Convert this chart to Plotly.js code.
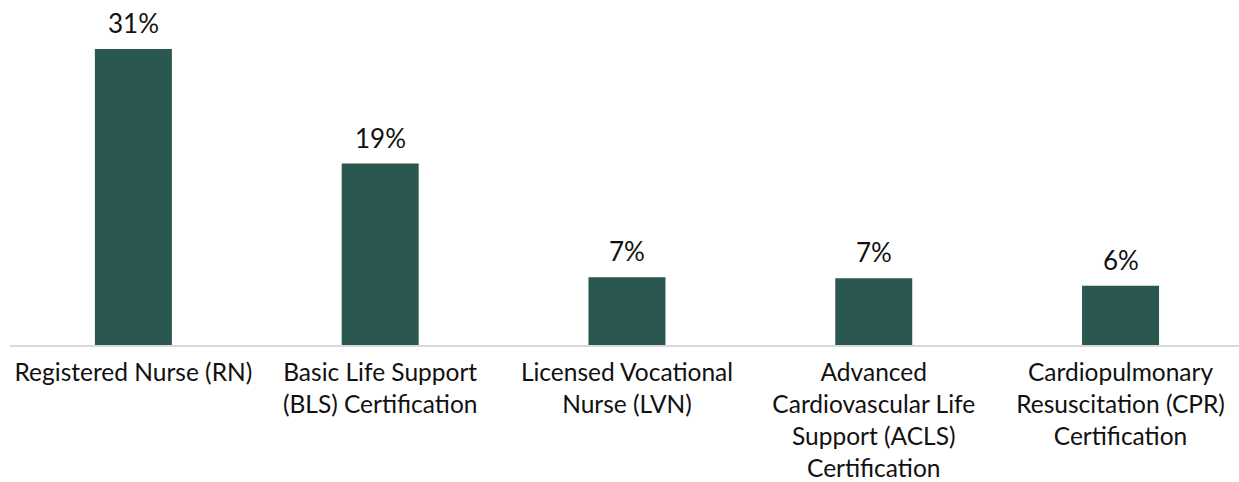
<!DOCTYPE html>
<html>
<head>
<meta charset="utf-8">
<script src="https://cdn.plot.ly/plotly-3.0.1.min.js"></script>
<style>html,body{margin:0;padding:0;background:#fff;}#chart{width:1239px;height:482px;}</style>
</head>
<body>
<div id="chart"></div>
<script>
const categories = [
  "Registered Nurse (RN)",
  "Basic Life Support<br>(BLS) Certification",
  "Licensed Vocational<br>Nurse (LVN)",
  "Advanced<br>Cardiovascular Life<br>Support (ACLS)<br>Certification",
  "Cardiopulmonary<br>Resuscitation (CPR)<br>Certification"
];
const values = [31, 19, 7.1, 7.0, 6.2];
const labels = ["31%", "19%", "7%", "7%", "6%"];

const fontFamily = "Lato, 'DejaVu Sans', sans-serif";

const trace = {
  type: "bar",
  x: [0, 1, 2, 3, 4],
  y: values,
  width: 0.312,
  marker: {color: "#2A5750"},
  hoverinfo: "none"
};

const annotations = values.map((v, i) => ({
  x: i, y: v, xref: "x", yref: "y",
  text: labels[i], showarrow: false,
  yanchor: "bottom", yshift: 8,
  font: {family: fontFamily, size: 26, color: "#111"}
}));

const layout = {
  width: 1239, height: 482,
  margin: {l: 10, r: 0, t: 15, b: 137},
  paper_bgcolor: "#fff", plot_bgcolor: "#fff",
  showlegend: false,
  xaxis: {
    range: [-0.5, 4.48],
    tickmode: "array", tickvals: [0, 1, 2, 3, 4], ticktext: categories,
    showline: true, linecolor: "#d9d9d9", linewidth: 2,
    showgrid: false, zeroline: false, ticks: "",
    ticklabelstandoff: 5,
    tickfont: {family: fontFamily, size: 24.5, color: "#111"}
  },
  yaxis: {
    range: [0, 34.55], visible: false, showgrid: false, zeroline: false
  },
  annotations: annotations
};

Plotly.newPlot("chart", [trace], layout, {displayModeBar: false, staticPlot: true});
</script>
</body>
</html>
